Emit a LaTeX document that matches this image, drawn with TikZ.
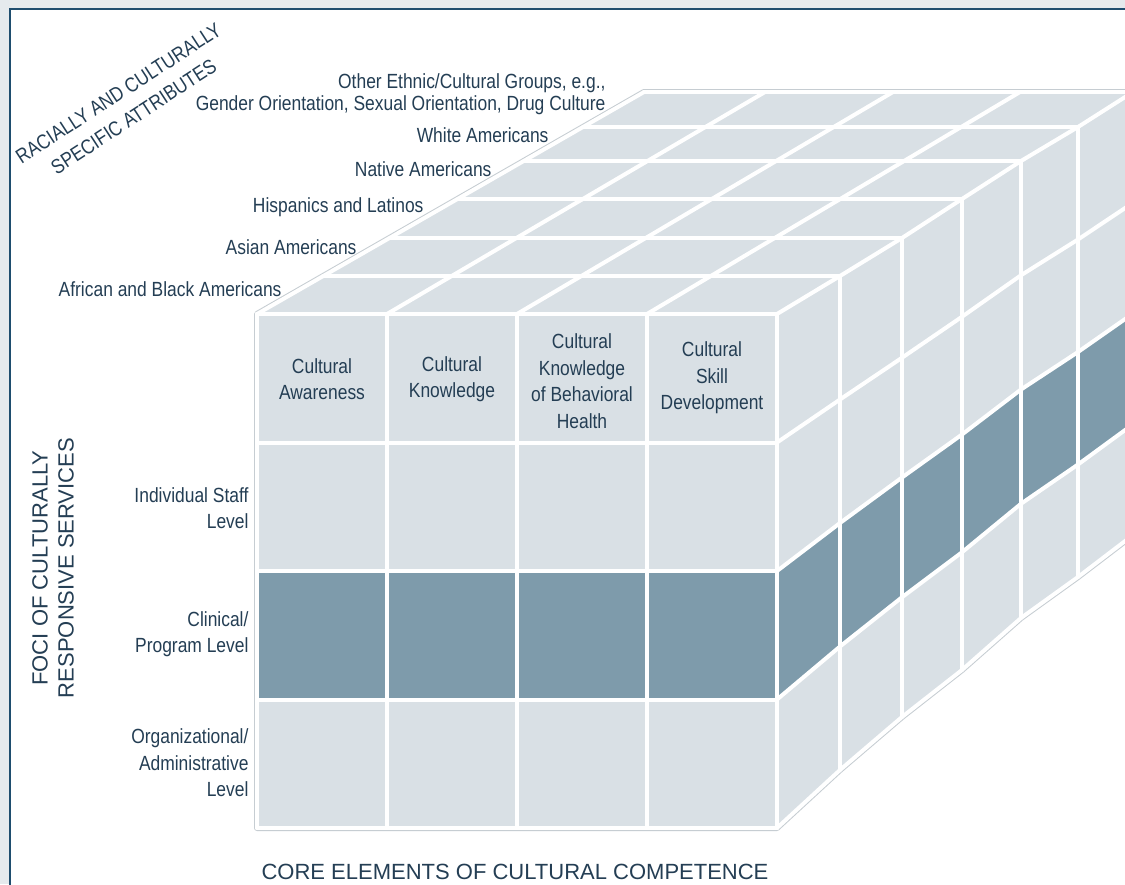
\documentclass[tikz,border=0pt]{standalone}
\usepackage{fontspec}
\setmainfont{Liberation Sans}
\newfontfamily\narrowfont[FakeStretch=0.85]{Liberation Sans}
\definecolor{cubelight}{RGB}{217,224,229}
\definecolor{cubedark}{RGB}{126,155,171}
\definecolor{labelblue}{RGB}{36,62,84}
\definecolor{frameblue}{RGB}{30,77,110}
\definecolor{pagegrey}{RGB}{229,234,237}
\definecolor{edgegrey}{RGB}{198,205,210}
\tikzset{
  gridline/.style={white,line width=4,line join=round,line cap=round},
  celltext/.style={text=labelblue,align=center,font=\narrowfont\fontsize{20.5}{26.5}\selectfont},
  leveltext/.style={text=labelblue,align=right,anchor=east,font=\narrowfont\fontsize{20.5}{26.5}\selectfont},
  axistext/.style={text=labelblue,align=center,font=\fontsize{22}{26}\selectfont}
}
% depth layers of the side face: x / top y / bottom y
\def\sidecols{777/314/828,840/276/770,902/238/717,962/199/670,1021/161/618,1078/127/577,1133/92/535}
\def\sidecolsrev{1133/92/535,1078/127/577,1021/161/618,962/199/670,902/238/717,840/276/770,777/314/828}
% depth layers of the top face: left x / right x / y
\def\toprows{257/777/314,323/840/276,390/902/238,458/962/199,524/1021/161,583/1078/127,644/1133/92}
\begin{document}
\begin{tikzpicture}[x=1pt,y=-1pt]
	\useasboundingbox (0,0) rectangle (1125,884);
	\clip (0,0) rectangle (1125,884);
	%Nen va khung
	\fill[pagegrey] (0,0) rectangle (1125,884);
	\draw[frameblue,line width=2.5,fill=white] (10,9) rectangle (1160,920);
	%Vien ngoai khoi
	\draw[edgegrey,line width=6,line join=round] (257,828) -- (257,314) -- (644,92) -- (1133,92) -- (1133,535)
		\foreach \x/\t/\b in \sidecolsrev { -- (\x,\b) } -- cycle;
	%Mat truoc
	\fill[cubelight] (257,314) rectangle (777,828);
	\fill[cubedark] (257,571) rectangle (777,699.5);
	%Mat tren
	\fill[cubelight] (257,314) -- (644,92) \foreach \x/\t/\b in \sidecolsrev { -- (\x,\t) } -- cycle;
	%Mat ben
	\fill[cubelight] (777,314) \foreach \x/\t/\b in \sidecols { -- (\x,\t) }
		\foreach \x/\t/\b in \sidecolsrev { -- (\x,\b) } -- cycle;
	\fill[cubedark] (777,571) \foreach \x/\t/\b in \sidecols { -- (\x,{\t+2*(\b-\t)/4}) }
		\foreach \x/\t/\b in \sidecolsrev { -- (\x,{\t+3*(\b-\t)/4}) } -- cycle;
	%Luoi mat truoc
	\foreach \x in {257,387,517,647,777}
		\draw[gridline] (\x,314) -- (\x,828);
	\foreach \y in {314,442.5,571,699.5,828}
		\draw[gridline] (257,\y) -- (777,\y);
	%Luoi mat tren
	\foreach \l/\r/\y in \toprows
		\draw[gridline] (\l,\y) -- (\r,\y);
	\foreach \f/\g in {257/644,387/765,517/893,647/1020}
		\draw[gridline] (\f,314) -- (\g,92);
	%Luoi mat ben
	\foreach \x/\t/\b in \sidecols
		\draw[gridline] (\x,\t) -- (\x,\b);
	\foreach \v in {0,1,2,3,4}
		\draw[gridline] (777,{314+\v*128.5}) \foreach \x/\t/\b in \sidecols { -- (\x,{\t+\v*(\b-\t)/4}) };
	%Yeu to cot loi
	\node[celltext] (awareness) at (322,379) {Cultural\\Awareness};
	\node[celltext] (knowledge) at (452,379) {Cultural\\Knowledge};
	\node[celltext] (behavioral) at (582,381) {Cultural\\Knowledge\\of Behavioral\\Health};
	\node[celltext] (skill) at (712,378) {Cultural\\Skill\\Development};
	%Cac cap do
	\node[leveltext] (staff) at (252,508) {Individual Staff\\Level};
	\node[leveltext] (clinical) at (252,634) {Clinical/\\Program Level};
	\node[leveltext] (organizational) at (252,763) {Organizational/\\Administrative\\Level};
	%Cac nhom
	\node[leveltext] (african) at (285,289) {African and Black Americans};
	\node[leveltext] (asian) at (360,247) {Asian Americans};
	\node[leveltext] (hispanic) at (427,207) {Hispanics and Latinos};
	\node[leveltext] (native) at (495,169) {Native Americans};
	\node[leveltext] (white) at (552,135) {White Americans};
	\node[leveltext,font=\narrowfont\fontsize{20.5}{22}\selectfont] (other) at (609,94) {Other Ethnic/Cultural Groups, e.g.,\\Gender Orientation, Sexual Orientation, Drug Culture};
	%Tieu de truc
	\node[celltext,rotate=33,font=\narrowfont\fontsize{20.5}{28}\selectfont] (attributes) at (126,105) {RACIALLY AND CULTURALLY\\SPECIFIC ATTRIBUTES};
	\node[axistext,rotate=90] (foci) at (53,568) {FOCI OF CULTURALLY\\RESPONSIVE SERVICES};
	\node[axistext] (core) at (515,872) {CORE ELEMENTS OF CULTURAL COMPETENCE};
\end{tikzpicture}
\end{document}
